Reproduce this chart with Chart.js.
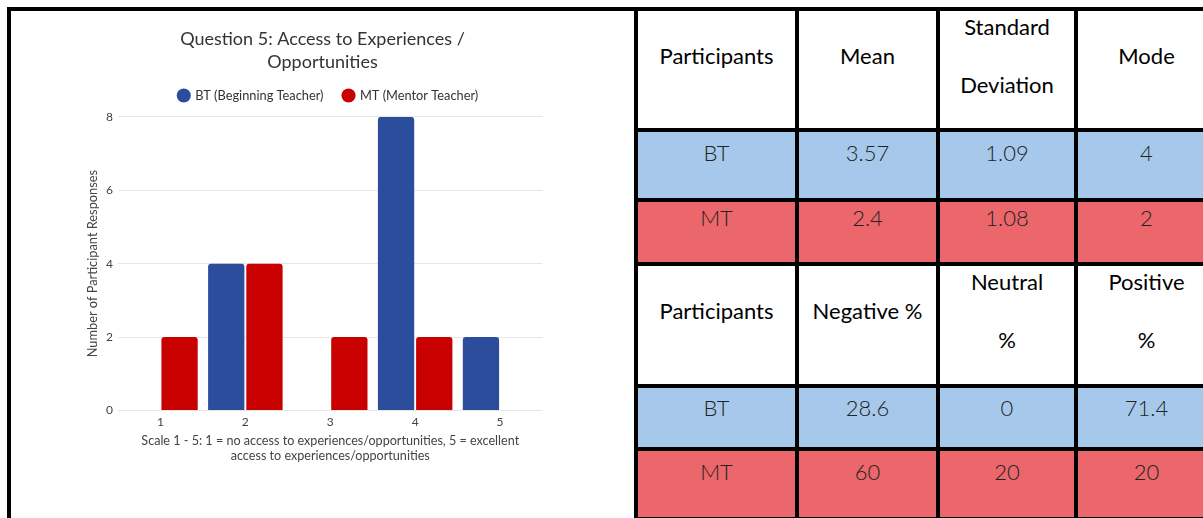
<!DOCTYPE html>
<html lang="en">

<head>
    <meta charset="UTF-8">
    <title>Question 5: Access to Experiences / Opportunities</title>
    <script src="https://cdn.jsdelivr.net/npm/chart.js"></script>
    <style>
        body {
            margin: 0;
            width: 1203px;
            height: 518px;
            overflow: hidden;
            background: #fff;
            position: relative;
        }

        .frame {
            position: absolute;
            left: 7px;
            top: 7px;
            width: 1300px;
            height: 600px;
            border-left: 4px solid #000;
            border-top: 4px solid #000;
        }

        .chart-box {
            position: absolute;
            left: 11px;
            top: 11px;
            width: 623px;
            height: 507px;
        }

        table {
            position: absolute;
            left: 634px;
            top: 11px;
            width: 585px;
            border-collapse: separate;
            border-spacing: 0;
            table-layout: fixed;
            font-family: Lato, "Open Sans", sans-serif;
            font-size: 22px;
        }

        td {
            box-sizing: border-box;
            border-right: 4px solid #000;
            border-bottom: 4px solid #000;
            text-align: center;
            padding: 0;
        }

        td:first-child {
            border-left: 4px solid #000;
        }

        tr.head td {
            background: #fff;
            color: #000;
            vertical-align: middle;
            line-height: 58px;
        }

        tr.head td div {
            position: relative;
            top: -14px;
        }

        tr.bt td {
            background: #a6c9eb;
        }

        tr.mt td {
            background: #ec676b;
        }

        tr.bt td,
        tr.mt td {
            color: #222;
            vertical-align: top;
            line-height: 30px;
            font-weight: 300;
        }
    </style>
</head>

<body>
    <div class="frame"></div>
    <div class="chart-box">
        <canvas id="myChart"></canvas>
    </div>
    <table id="statsTable">
        <colgroup>
            <col style="width:165px">
            <col style="width:141px">
            <col style="width:138px">
            <col style="width:141px">
        </colgroup>
    </table>

    <script>
        // chart data
        const categories = ['1', '2', '3', '4', '5'];
        const btValues = [0, 4, 0, 8, 2];
        const mtValues = [2, 4, 2, 2, 0];
        const yTicks = [0, 2, 4, 6, 8];

        // table data
        const headerRow1 = ['Participants', 'Mean', 'Standard<br>Deviation', 'Mode'];
        const btRow1 = ['BT', '3.57', '1.09', '4'];
        const mtRow1 = ['MT', '2.4', '1.08', '2'];
        const headerRow2 = ['Participants', 'Negative %', 'Neutral<br>%', 'Positive<br>%'];
        const btRow2 = ['BT', '28.6', '0', '71.4'];
        const mtRow2 = ['MT', '60', '20', '20'];

        // build the table
        var rows = [
            { cells: headerRow1, cls: 'head', h: 121, pad: 0 },
            { cells: btRow1, cls: 'bt', h: 70, pad: 6 },
            { cells: mtRow1, cls: 'mt', h: 64, pad: 1 },
            { cells: headerRow2, cls: 'head', h: 122, pad: 0 },
            { cells: btRow2, cls: 'bt', h: 63, pad: 5 },
            { cells: mtRow2, cls: 'mt', h: 70, pad: 6 }
        ];
        var table = document.getElementById('statsTable');
        rows.forEach(function (r) {
            var tr = document.createElement('tr');
            tr.className = r.cls;
            r.cells.forEach(function (txt) {
                var td = document.createElement('td');
                td.style.height = r.h + 'px';
                if (r.cls === 'head') {
                    td.innerHTML = '<div>' + txt + '</div>';
                } else {
                    td.style.paddingTop = r.pad + 'px';
                    td.textContent = txt;
                }
                tr.appendChild(td);
            });
            table.appendChild(tr);
        });

        // a bit more room under the legend, and nudge it right like the original
        const legendTweak = {
            id: 'legendTweak',
            beforeInit(chart) {
                const fit = chart.legend.fit;
                chart.legend.fit = function () {
                    fit.bind(chart.legend)();
                    this.height += 5;
                };
            },
            afterLayout(chart) {
                chart.legend.left += 6;
                chart.legend.right += 6;
            }
        };

        // chart
        Chart.defaults.font.family = 'Lato, "Open Sans", sans-serif';
        Chart.defaults.color = '#444';

        const myChart = new Chart(document.getElementById('myChart'), {
            type: 'bar',
            data: {
                labels: categories,
                datasets: [{
                    label: 'BT (Beginning Teacher)',
                    data: btValues,
                    backgroundColor: '#2c4d9c',
                    borderRadius: { topLeft: 3, topRight: 3 },
                    borderSkipped: 'bottom'
                }, {
                    label: 'MT (Mentor Teacher)',
                    data: mtValues,
                    backgroundColor: '#c80000',
                    borderRadius: { topLeft: 3, topRight: 3 },
                    borderSkipped: 'bottom'
                }]
            },
            plugins: [legendTweak],
            options: {
                responsive: true,
                maintainAspectRatio: false,
                animation: false,
                categoryPercentage: 0.9,
                barPercentage: 0.95,
                layout: {
                    padding: { left: 40, right: 40, bottom: 51.4, top: 0 }
                },
                plugins: {
                    title: {
                        display: true,
                        text: ['Question 5: Access to Experiences /', 'Opportunities'],
                        color: '#333',
                        font: { size: 18, weight: 'normal', lineHeight: 1.28 },
                        padding: { top: 17, bottom: -5 }
                    },
                    legend: {
                        labels: {
                            usePointStyle: true,
                            pointStyle: 'circle',
                            boxWidth: 10,
                            boxHeight: 10,
                            padding: 20,
                            color: '#333',
                            font: { size: 12.8 }
                        }
                    },
                    tooltip: { enabled: false }
                },
                scales: {
                    x: {
                        grid: { display: false, drawTicks: false },
                        border: { display: false },
                        ticks: { padding: 6, font: { size: 12, lineHeight: 1 }, color: '#444' },
                        title: {
                            display: true,
                            text: ['Scale 1 - 5: 1 = no access to experiences/opportunities, 5 = excellent',
                                'access to experiences/opportunities'],
                            color: '#444',
                            font: { size: 12.6, lineHeight: 1.12 },
                            padding: { top: 0, bottom: 4 }
                        }
                    },
                    y: {
                        min: 0,
                        max: 8,
                        afterBuildTicks: function (scale) {
                            scale.ticks = yTicks.map(v => ({ value: v }));
                        },
                        afterFit: function (scale) {
                            scale.width = 67;
                        },
                        grid: { color: '#e6e6e6', drawTicks: false },
                        border: { display: false },
                        ticks: { padding: 5, font: { size: 12 }, color: '#444' },
                        title: {
                            display: true,
                            text: 'Number of Participant Responses',
                            color: '#444',
                            font: { size: 12.8 },
                            padding: { top: 34, bottom: 0 }
                        }
                    },
                    // empty right-hand axis, only to keep the plot narrower on the right
                    yRight: {
                        position: 'right',
                        min: 0,
                        max: 8,
                        grid: { display: false, drawTicks: false },
                        border: { display: false },
                        ticks: { display: false },
                        afterFit: function (scale) {
                            scale.width = 51.5;
                        }
                    }
                }
            }
        });
    </script>
</body>

</html>
